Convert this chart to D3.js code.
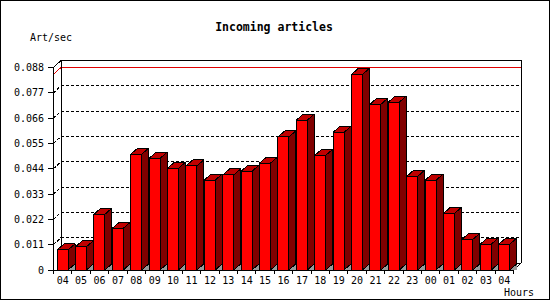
<!DOCTYPE html>
<html>
<head>
<meta charset="utf-8">
<script src="https://cdn.jsdelivr.net/npm/d3@7"></script>
<style>
  body { margin: 0; background: #fff; }
  svg { display: block; }
</style>
</head>
<body>
<div id="chart"></div>
<script>
// Datos del grafico
const hours = ["04", "05", "06", "07", "08", "09", "10", "11", "12", "13", "14", "15",
    "16", "17", "18", "19", "20", "21", "22", "23", "00", "01", "02", "03", "04"];
const artPerSec = [0.0087, 0.0101, 0.0242, 0.0181, 0.0503, 0.0485, 0.0442, 0.0452,
    0.0391, 0.0413, 0.0429, 0.0464, 0.0578, 0.0651, 0.0498, 0.0598, 0.0850, 0.0720,
    0.0729, 0.0407, 0.0390, 0.0246, 0.0133, 0.0112, 0.0112];
const yTicks = [0, 0.011, 0.022, 0.033, 0.044, 0.055, 0.066, 0.077, 0.088];
const yTickLabels = ["0", "0.011", "0.022", "0.033", "0.044", "0.055", "0.066", "0.077", "0.088"];

const width = 550, height = 300;
const mono = "'DejaVu Sans Mono', monospace";

// profundidad del marco y de las barras
const depthX = 7.5, depthY = 7;
const barDX = 7, barDY = 6;

const svg = d3.select("#chart").append("svg")
    .attr("width", width)
    .attr("height", height)
    .attr("shape-rendering", "crispEdges");

// borde exterior
svg.append("rect")
    .attr("x", 0.5).attr("y", 0.5)
    .attr("width", width - 1).attr("height", height - 1)
    .attr("fill", "#fff").attr("stroke", "#000");

// escalas (frente del grafico)
const x = d3.scaleBand().domain(d3.range(hours.length)).range([53.5, 513.5]);
const y = d3.scaleLinear().domain([0, 0.088]).range([270, 67.5]);

const x0 = x.range()[0], x1 = x.range()[1];

// lineas de la cuadricula en la pared del fondo
yTicks.slice(1, -1).forEach(t => {
    svg.append("line")
        .attr("x1", x0 + depthX).attr("x2", x1 + depthX)
        .attr("y1", y(t) - depthY).attr("y2", y(t) - depthY)
        .attr("stroke", "#000").attr("stroke-dasharray", "3,2");
    svg.append("line")
        .attr("x1", x0).attr("x2", x0 + depthX)
        .attr("y1", y(t)).attr("y2", y(t) - depthY)
        .attr("stroke", "#000").attr("stroke-dasharray", "3,2");
});

// linea roja del maximo
const maxVal = d3.max(artPerSec);
svg.append("line")
    .attr("x1", x0 + depthX).attr("x2", x1 + depthX)
    .attr("y1", y(maxVal) - depthY).attr("y2", y(maxVal) - depthY)
    .attr("stroke", "#e00000");
svg.append("line")
    .attr("x1", x0).attr("x2", x0 + depthX)
    .attr("y1", y(maxVal)).attr("y2", y(maxVal) - depthY)
    .attr("stroke", "#e00000");

// marco del fondo
const frame = svg.append("g").attr("fill", "none").attr("stroke", "#000");
frame.append("path")
    .attr("d", `M${x0},${y(0.088)} L${x0 + depthX},${y(0.088) - depthY} L${x1 + depthX},${y(0.088) - depthY}` +
        ` L${x1 + depthX},${y(0) - depthY} L${x1},${y(0)}`);
frame.append("line")
    .attr("x1", x0 + depthX).attr("x2", x0 + depthX)
    .attr("y1", y(0.088) - depthY).attr("y2", y(0) - depthY);
frame.append("line")
    .attr("x1", x0 + depthX).attr("x2", x1 + depthX)
    .attr("y1", y(0) - depthY).attr("y2", y(0) - depthY);

// barras 3D
const barOffset = 3.5, barW = 11;
const bars = svg.append("g").attr("stroke", "#000").attr("stroke-linejoin", "round");
artPerSec.forEach((v, i) => {
    const bx = x(i) + barOffset;
    const top = y(v), base = y(0);
    // sombra en el suelo
    bars.append("path")
        .attr("d", `M${bx + barW},${base} L${bx + barW + barDX},${base - barDY} L${bx + barW + barDX},${base} Z`)
        .attr("fill", "#999").attr("stroke", "none");
    // lado
    bars.append("path")
        .attr("d", `M${bx + barW},${top} L${bx + barW + barDX},${top - barDY} L${bx + barW + barDX},${base - barDY} L${bx + barW},${base} Z`)
        .attr("fill", "#800000");
    // techo
    bars.append("path")
        .attr("d", `M${bx},${top} L${bx + barDX},${top - barDY} L${bx + barW + barDX},${top - barDY} L${bx + barW},${top} Z`)
        .attr("fill", "#c00000");
    // frente
    bars.append("rect")
        .attr("x", bx).attr("y", top)
        .attr("width", barW).attr("height", base - top)
        .attr("fill", "#ff0000");
});

// ejes del frente
svg.append("line")
    .attr("x1", x0).attr("x2", x0)
    .attr("y1", y(0.088)).attr("y2", y(0))
    .attr("stroke", "#000");
svg.append("line")
    .attr("x1", x0).attr("x2", x1)
    .attr("y1", y(0)).attr("y2", y(0))
    .attr("stroke", "#000");

// marcas y etiquetas del eje Y
yTicks.forEach((t, i) => {
    svg.append("line")
        .attr("x1", x0 - 6).attr("x2", x0)
        .attr("y1", y(t)).attr("y2", y(t))
        .attr("stroke", "#000");
    svg.append("text")
        .attr("x", 44).attr("y", y(t) + 3.5)
        .attr("text-anchor", "end")
        .style("font", `10px ${mono}`)
        .text(yTickLabels[i]);
});

// marcas y etiquetas del eje X
d3.range(hours.length + 1).forEach(i => {
    const tx = x0 + i * x.bandwidth();
    svg.append("line")
        .attr("x1", tx).attr("x2", tx)
        .attr("y1", y(0)).attr("y2", y(0) + 4)
        .attr("stroke", "#000");
});
hours.forEach((h, i) => {
    svg.append("text")
        .attr("x", x(i) + x.bandwidth() / 2).attr("y", 283.5)
        .attr("text-anchor", "middle")
        .style("font", `10px ${mono}`)
        .text(h);
});

// titulos
svg.append("text")
    .attr("x", 274).attr("y", 31)
    .attr("text-anchor", "middle")
    .style("font", `bold 11.5px ${mono}`)
    .text("Incoming articles");
svg.append("text")
    .attr("x", 30).attr("y", 41)
    .style("font", `10px ${mono}`)
    .text("Art/sec");
svg.append("text")
    .attr("x", 504).attr("y", 296)
    .style("font", `10px ${mono}`)
    .text("Hours");
</script>
</body>
</html>
